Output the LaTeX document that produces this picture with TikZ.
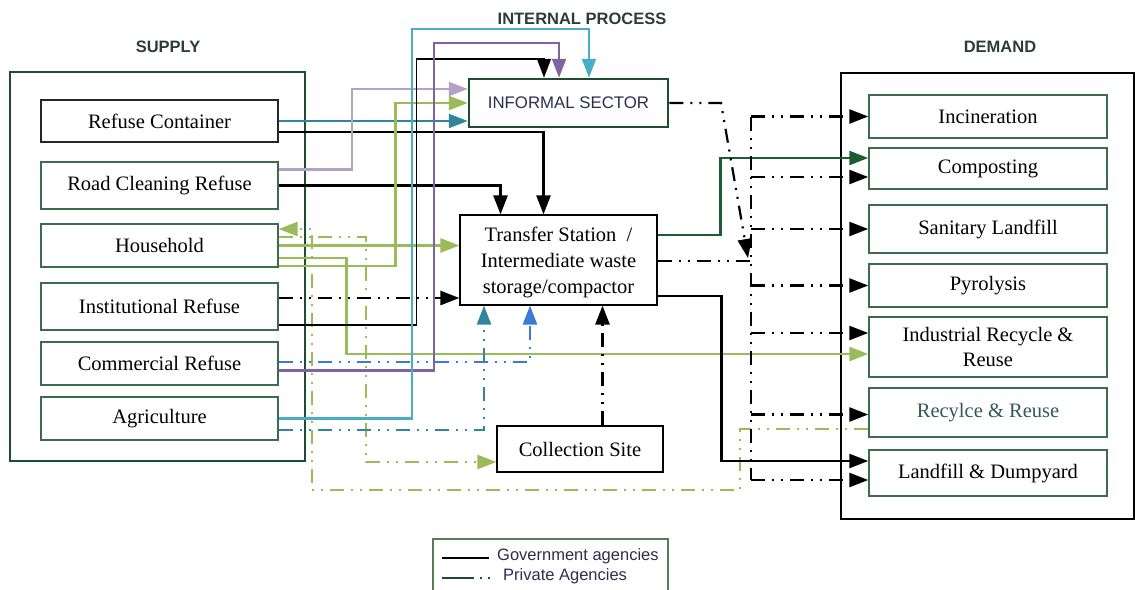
\documentclass[tikz,border=0pt]{standalone}
\usepackage{fontspec}
\setmainfont{Liberation Serif}
\setsansfont{Liberation Sans}
\usetikzlibrary{arrows.meta}
\definecolor{dkgreen}{HTML}{1F4E2F}
\definecolor{boxgreen}{HTML}{3D6B4D}
\definecolor{compgreen}{HTML}{1E5B32}
\definecolor{lavender}{HTML}{B3A2C7}
\definecolor{purp}{HTML}{8064A2}
\definecolor{lgreen}{HTML}{9BBB59}
\definecolor{lblue}{HTML}{4BACC6}
\definecolor{tealc}{HTML}{31859C}
\definecolor{bluec}{HTML}{3A7BD5}
\definecolor{labelc}{HTML}{2F3B3B}
\definecolor{infc}{HTML}{2D2D4D}
\definecolor{rrtext}{HTML}{2F5A55}
\definecolor{legc}{HTML}{5A7A5A}
\tikzset{
  serif/.style={font=\fontsize{20.5}{26}\selectfont},
  sbox/.style={draw=boxgreen, line width=1.3pt, minimum width=237pt, inner sep=0pt, serif, align=center},
  dbox/.style={draw=boxgreen, line width=1.5pt, minimum width=238pt, inner sep=0pt, serif, align=center},
  mbox/.style={draw=black, line width=1.2pt, inner sep=0pt, serif, align=center},
  hdr/.style={font=\sffamily\bfseries\fontsize{16.5}{20}\selectfont, text=labelc},
  arr/.style={-{Triangle[length=19pt,width=14pt]}},
  dd/.style={dash pattern=on 14pt off 7pt on 2pt off 7pt on 2pt off 7pt},
  flow/.style={line width=2.2pt},
  thinflow/.style={line width=1.5pt},
}
\begin{document}
\begin{tikzpicture}[x=1pt,y=-1pt]
\useasboundingbox (0,0) rectangle (1135,589);

% headers
\node[hdr] (hsup) at (168,47) {SUPPLY};
\node[hdr] (hdem) at (1000,47) {DEMAND};
\node[hdr] (hint) at (582,19) {INTERNAL PROCESS};

% supply and demand frames
\draw[dkgreen, line width=2.2pt] (10,72) rectangle (305,461);
\draw[black, line width=2.5pt] (841,73) rectangle (1134,519);

% supply boxes
\node[sbox, draw=black!85, minimum height=42pt] (rc) at (159.5,121) {Refuse Container};
\node[sbox, minimum height=47pt] (rcr) at (159.5,185.5) {Road Cleaning Refuse};
\node[sbox, minimum height=43pt] (hh) at (159.5,245.5) {Household};
\node[sbox, minimum height=47pt] (ir) at (159.5,306.5) {Institutional Refuse};
\node[sbox, minimum height=43pt] (cr) at (159.5,363.5) {Commercial Refuse};
\node[sbox, minimum height=43pt] (ag) at (159.5,418.5) {Agriculture};

% demand boxes
\node[dbox, minimum height=43pt] (inc) at (988,116.5) {Incineration};
\node[dbox, minimum height=41pt] (comp) at (988,168.5) {Composting};
\node[dbox, minimum height=48pt] (sl) at (988,229) {Sanitary Landfill};
\node[dbox, minimum height=43pt] (pyr) at (988,285.5) {Pyrolysis};
\node[dbox, minimum height=60pt, font=\fontsize{20.5}{25}\selectfont] (irr) at (988,347) {Industrial Recycle \&\\Reuse};
\node[dbox, minimum height=49pt, text=rrtext] (rr) at (988,412.5) {Recylce \& Reuse};
\node[dbox, minimum height=46pt] (ld) at (988,473) {Landfill \& Dumpyard};

% internal process boxes
\node[draw=dkgreen, line width=2.5pt, minimum width=199pt, minimum height=48pt, inner sep=0pt,
      font=\sffamily\fontsize{16.8}{20}\selectfont, text=infc] (inf) at (568.5,103) {INFORMAL SECTOR};
\node[mbox, minimum width=197pt, minimum height=90pt, text depth=-6pt] (ts) at (558.5,260)
  {Transfer Station\ \ /\\Intermediate waste\\storage/compactor};
\node[mbox, minimum width=166pt, minimum height=46pt] (cs) at (580,449) {Collection Site};

% helper coordinates
\coordinate (t1) at (544,59);
\coordinate (t2) at (559,43);
\coordinate (t3) at (589,29);
\coordinate (g1) at (740,490);
\coordinate (g2) at (312,490);
\coordinate (c1) at (366,462);
\coordinate (d1) at (721,103);
\coordinate (d2) at (748,258);
\coordinate (bus) at (751,0);
\coordinate (bustop) at (751,117);
\coordinate (busbot) at (751,480);
\coordinate (compA) at ([yshift=-8.5pt]comp.west);
\coordinate (irrA) at ([yshift=14pt]irr.west);
\coordinate (rrA) at ([yshift=-2pt]rr.west);
\coordinate (ldA) at ([yshift=-7pt]ld.west);

% ---- supply -> informal sector / transfer station
\draw[tealc, flow, arr] (rc.east) -- (rc.east -| inf.west);
\draw[black, flow, line width=2.5pt, arr] ([yshift=-11pt]rc.east) -| ([xshift=-15pt]ts.north);
\draw[lavender, flow, arr] ([yshift=16pt]rcr.east) -- ++(73,0) |- ([yshift=14pt]inf.west);
\draw[black, flow, line width=2.5pt, arr] (rcr.east) -| ([xshift=-58pt]ts.north);

% household
\draw[lgreen, flow, line width=2.5pt, dd, arr] ([yshift=-16.5pt]rr.west) -| (g1) -- (g2) |- ([yshift=16.5pt]hh.east);
\draw[lgreen, flow, line width=2.5pt, dd, arr] ([yshift=8.5pt]hh.east) -| (c1) -- ([yshift=-13pt]cs.west);
\draw[lgreen, flow, line width=2.6pt, arr] (hh.east) -- (hh.east -| ts.west);
\draw[lgreen, flow, line width=2.6pt, arr] ([yshift=-12.5pt]hh.east) -- ++(68,0) |- ([yshift=-7pt]irr.west);
\draw[lgreen, flow, line width=2.6pt, arr] ([yshift=-20.5pt]hh.east) -- ++(117,0) |- (inf.west);

% institutional
\draw[black, flow, line width=2.6pt, dd, arr] ([yshift=8.5pt]ir.east) -- ([yshift=8.5pt]ir.east -| ts.west);
\draw[black, thinflow, arr] ([yshift=-18.5pt]ir.east) -- ++(138,0) |- (t1) -- ([xshift=-24.5pt]inf.north);

% commercial
\draw[purp, flow, arr] ([yshift=-7pt]cr.east) -- ++(155,0) |- (t2) -- ([xshift=-9.5pt]inf.north);
\draw[bluec, flow, line width=2.6pt, dd, arr] ([yshift=1.5pt]cr.east) -| ([xshift=-28.5pt]ts.south);

% agriculture
\draw[lblue, flow, arr] (ag.east) -- ++(133,0) |- (t3) -- ([xshift=20.5pt]inf.north);
\draw[tealc, flow, line width=2.6pt, dd, arr] ([yshift=-11.5pt]ag.east) -| ([xshift=-74.5pt]ts.south);

% collection site -> transfer station
\draw[black, flow, line width=2.6pt, dd, arr] ([xshift=22.5pt]cs.north) -- ([xshift=22.5pt]cs.north |- ts.south);

% transfer station -> demand
\draw[compgreen, flow, line width=2.6pt, arr] ([yshift=25pt]ts.east) -- ++(63,0) |- ([yshift=10.5pt]comp.west);
\draw[black, flow, dd] ([yshift=-1pt]ts.east) -- ([yshift=-1pt]ts.east -| bus);
\draw[black, flow, line width=2.6pt, arr] ([yshift=-36pt]ts.east) -- ++(64,0) |- ([yshift=12pt]ld.west);

% informal sector -> bus
\draw[black, flow, dd, arr] (inf.east) -- (d1) -- (d2);

% private bus and branches
\draw[black, flow, dd] (bustop) -- (busbot);
\draw[black, flow, line width=2.6pt, dd, arr] (bus |- inc.west) -- (inc.west);
\draw[black, flow, line width=2.6pt, dd, arr] (bus |- compA) -- (compA);
\draw[black, flow, line width=2.6pt, dd, arr] (bus |- sl.west) -- (sl.west);
\draw[black, flow, line width=2.6pt, dd, arr] (bus |- pyr.west) -- (pyr.west);
\draw[black, flow, line width=2.6pt, dd, arr] (bus |- irrA) -- (irrA);
\draw[black, flow, line width=2.6pt, dd, arr] (bus |- rrA) -- (rrA);
\draw[black, flow, line width=2.6pt, dd, arr] (bus |- ldA) -- (ldA);

% legend
\draw[legc, line width=1.3pt] (433,595) -- (433,539) -- (668,539) -- (668,595);
\draw[black, line width=2.4pt] (442,558) -- (489,558);
\node[anchor=west, inner sep=0pt, font=\sffamily\fontsize{16.5}{20}\selectfont, text=infc] (lg1) at (497,556) {Government agencies};
\draw[dkgreen, line width=2.4pt, dash pattern=on 32pt off 6pt on 2pt off 6pt on 2pt off 100pt] (442,578) -- (492,578);
\node[anchor=west, inner sep=0pt, font=\sffamily\fontsize{16.5}{20}\selectfont, text=infc] (lg2) at (503,576) {Private Agencies};
\end{tikzpicture}
\end{document}
